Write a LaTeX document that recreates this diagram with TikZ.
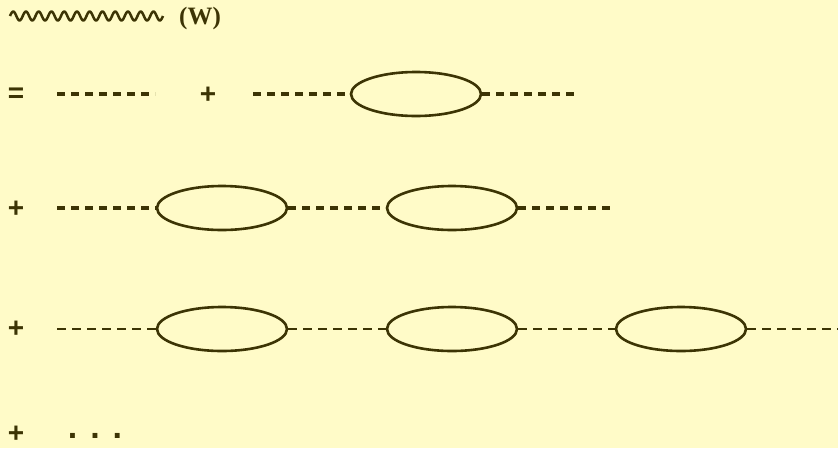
\documentclass[tikz,border=0pt]{standalone}
\usepackage{fontspec}
\setmainfont{Liberation Serif}
\newfontfamily\signfont{Liberation Sans}
\usetikzlibrary{shapes.geometric}
\definecolor{bg}{RGB}{255,251,200}
\definecolor{ink}{RGB}{60,52,4}
\tikzset{
  loopbox/.style={draw=ink, line width=2.6pt, ellipse, minimum width=130pt, minimum height=44pt, inner sep=0pt},
  thickdash/.style={draw=ink, line width=3.2pt, dash pattern=on 8pt off 6pt},
  thindash/.style={draw=ink, line width=1.6pt, dash pattern=on 9pt off 6pt},
  wavy/.style={draw=ink, line width=2.5pt, line join=round},
  sign/.style={text=ink, font=\signfont\bfseries\fontsize{28}{28}\selectfont, inner sep=0pt},
  dotstyle/.style={text=ink, font=\signfont\bfseries\fontsize{34}{34}\selectfont, inner sep=0pt},
  label/.style={text=ink, font=\bfseries\fontsize{25}{25}\selectfont, inner sep=0pt}
}
\begin{document}
\begin{tikzpicture}[x=1pt,y=-1pt]
\fill[bg] (0,0) rectangle (838,448);
\useasboundingbox (0,0) rectangle (838,448);
% row 1
\draw[wavy] plot[domain=0:153, samples=240, smooth] ({\x+10}, {16 - 4.5*sin(\x*28.235)});
\node[label] (W) at (200,18) {(W)};
% row 2
\node[sign] (eq) at (16,95) {=};
\coordinate (a1) at (57,94);
\coordinate (a2) at (155,94);
\draw[thickdash] (a1) -- (a2);
\node[sign] (p1) at (208,95) {+};
\coordinate (b1) at (253,94);
\node[loopbox] (e1) at (416,94) {};
\coordinate (b2) at (577,94);
\draw[thickdash] (b1) -- (e1.west);
\draw[thickdash] (e1.east) -- (b2);
% row 3
\node[sign] (p2) at (16,209) {+};
\coordinate (c1) at (57,208);
\node[loopbox] (e2) at (222,208) {};
\node[loopbox] (e3) at (452,208) {};
\coordinate (c2) at (612,208);
\draw[thickdash] (c1) -- (e2.west);
\draw[thickdash] (e2.east) -- (e3.west);
\draw[thickdash] (e3.east) -- (c2);
% row 4
\node[sign] (p3) at (16,329) {+};
\coordinate (d1) at (57,329);
\node[loopbox] (e4) at (222,329) {};
\node[loopbox] (e5) at (452,329) {};
\node[loopbox] (e6) at (681,329) {};
\coordinate (d2) at (838,329);
\draw[thindash] (d1) -- (e4.west);
\draw[thindash] (e4.east) -- (e5.west);
\draw[thindash] (e5.east) -- (e6.west);
\draw[thindash] (e6.east) -- (d2);
% row 5
\node[sign, anchor=base] (p4) at (16,442) {+};
\node[dotstyle, anchor=base] (dots) at (95,438) {.\hspace{13pt}.\hspace{13pt}.};
\end{tikzpicture}
\end{document}
